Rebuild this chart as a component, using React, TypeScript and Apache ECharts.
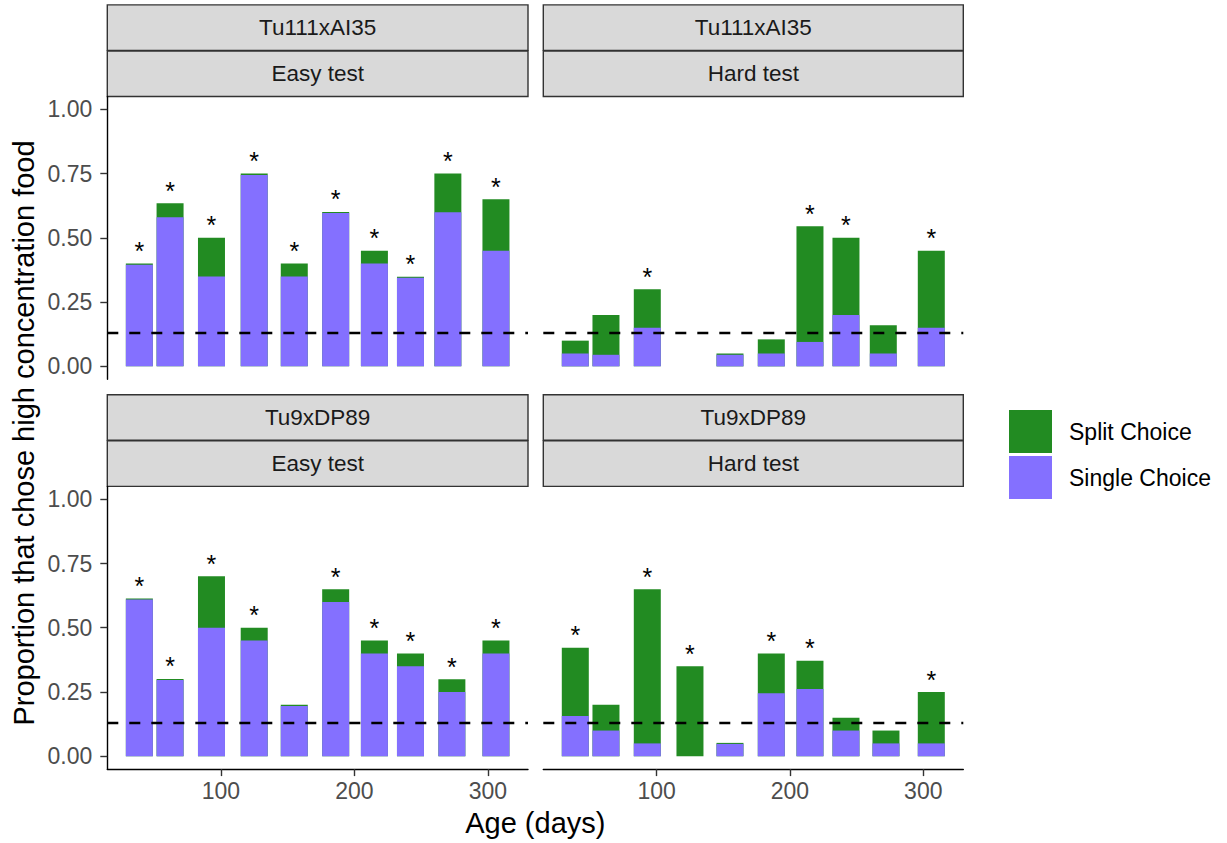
import React, { useEffect, useRef } from "react";
import * as echarts from "echarts";

// ---------- data ----------
const legendNames = ["Split Choice", "Single Choice"];
const xTicks = [100, 200, 300];
const yTicks = [0, 0.25, 0.5, 0.75, 1];
const chanceLevel = 0.125;

const crossLabels = ["Tu111xAI35", "Tu111xAI35", "Tu9xDP89", "Tu9xDP89"];
const testLabels = ["Easy test", "Hard test", "Easy test", "Hard test"];

// Tu111xAI35 - Easy test
const agesTL = [39, 62, 93, 125, 155, 186, 215, 242, 270, 306];
const singleTL = [0.395, 0.58, 0.35, 0.745, 0.35, 0.597, 0.4, 0.345, 0.6, 0.45];
const splitTL = [0.005, 0.055, 0.15, 0.005, 0.05, 0.004, 0.05, 0.004, 0.15, 0.2];
const sigTL = [true, true, true, true, true, true, true, true, true, true];

// Tu111xAI35 - Hard test
const agesTR = [39, 62, 93, 155, 186, 215, 242, 270, 306];
const singleTR = [0.05, 0.045, 0.15, 0.045, 0.05, 0.095, 0.2, 0.05, 0.15];
const splitTR = [0.05, 0.155, 0.15, 0.005, 0.055, 0.45, 0.3, 0.11, 0.3];
const sigTR = [false, false, true, false, false, true, true, false, true];

// Tu9xDP89 - Easy test
const agesBL = [39, 62, 93, 125, 155, 186, 215, 242, 273, 306];
const singleBL = [0.61, 0.297, 0.5, 0.45, 0.196, 0.6, 0.4, 0.35, 0.25, 0.4];
const splitBL = [0.004, 0.004, 0.2, 0.05, 0.004, 0.05, 0.05, 0.05, 0.05, 0.05];
const sigBL = [true, true, true, true, false, true, true, true, true, true];

// Tu9xDP89 - Hard test
const agesBR = [39, 62, 93, 125, 155, 186, 215, 242, 272, 306];
const singleBR = [0.157, 0.1, 0.05, 0, 0.048, 0.245, 0.262, 0.1, 0.05, 0.05];
const splitBR = [0.265, 0.1, 0.6, 0.35, 0.004, 0.155, 0.11, 0.05, 0.05, 0.2];
const sigBR = [true, false, true, true, false, true, true, false, false, true];

// ---------- styling / layout ----------
const GREEN = "#228B22";
const PURPLE = "#8470FF";
const FONT = "'Liberation Sans', Arial, Helvetica, sans-serif";

const panels = [
  { ages: agesTL, single: singleTL, split: splitTL, sig: sigTL, left: 107.3, top: 96.5, width: 420.7, height: 282.7, showX: false, showY: true },
  { ages: agesTR, single: singleTR, split: splitTR, sig: sigTR, left: 543.3, top: 96.5, width: 420, height: 282.7, showX: false, showY: false },
  { ages: agesBL, single: singleBL, split: splitBL, sig: sigBL, left: 107.3, top: 486.4, width: 420.7, height: 282.7, showX: true, showY: true },
  { ages: agesBR, single: singleBR, split: splitBR, sig: sigBR, left: 543.3, top: 486.4, width: 420, height: 282.7, showX: true, showY: false },
];

export default function App() {
  const ref = useRef<HTMLDivElement>(null);

  useEffect(() => {
    if (!ref.current) return;
    const chart = echarts.init(ref.current, undefined, { renderer: "svg" });

    const grid = panels.map((p) => ({ left: p.left, top: p.top, width: p.width, height: p.height, containLabel: false }));

    const xAxis = panels.map((p, i) => ({
      gridIndex: i,
      type: "value",
      min: 15,
      max: 330,
      axisLine: { show: p.showX, onZero: false, lineStyle: { color: "#000", width: 1.4 } },
      axisTick: { show: p.showX, customValues: xTicks, length: 7, lineStyle: { color: "#333", width: 1.4 } },
      axisLabel: { show: p.showX, customValues: xTicks, fontSize: 23, color: "#4D4D4D", margin: 10, fontFamily: FONT },
      splitLine: { show: false },
    }));

    const yAxis = panels.map((p, i) => ({
      gridIndex: i,
      type: "value",
      min: -0.05,
      max: 1.05,
      axisLine: { show: p.showY, onZero: false, lineStyle: { color: "#000", width: 1.4 } },
      axisTick: { show: p.showY, customValues: yTicks, length: 7, lineStyle: { color: "#333", width: 1.4 } },
      axisLabel: {
        show: p.showY,
        customValues: yTicks,
        formatter: (v: number) => v.toFixed(2),
        fontSize: 23,
        color: "#4D4D4D",
        margin: 15,
        fontFamily: FONT,
      },
      splitLine: { show: false },
    }));

    const series: any[] = [];
    panels.forEach((p, i) => {
      // Split Choice stacked on top of Single Choice: the green bar spans 0..total,
      // and the purple Single Choice bar is drawn over its lower part.
      series.push({
        type: "bar",
        name: "Split Choice",
        xAxisIndex: i,
        yAxisIndex: i,
        barWidth: 27,
        barGap: "-100%",
        itemStyle: { color: GREEN },
        label: {
          show: false,
          position: "top",
          distance: 0,
          formatter: "*",
          fontSize: 25,
          color: "#000",
          fontFamily: FONT,
        },
        data: p.ages.map((a, k) => ({ value: [a, p.single[k] + p.split[k]], label: { show: p.sig[k] } })),
        markLine: {
          silent: true,
          symbol: "none",
          z: 10,
          label: { show: false },
          lineStyle: { type: [11, 11], color: "#000", width: 2.4 },
          data: [{ yAxis: chanceLevel }],
        },
      });
      series.push({
        type: "bar",
        name: "Single Choice",
        xAxisIndex: i,
        yAxisIndex: i,
        barWidth: 27,
        barGap: "-100%",
        itemStyle: { color: PURPLE },
        data: p.ages.map((a, k) => [a, p.single[k]]),
      });
    });

    const graphic: any[] = [];
    panels.forEach((p, i) => {
      const stripH = 45.5;
      const y0 = p.top - 2 * stripH - 0.6;
      const boxes = [
        { y: y0, label: crossLabels[i] },
        { y: y0 + stripH + 0.6, label: testLabels[i] },
      ];
      boxes.forEach((b) => {
        graphic.push({
          type: "rect",
          shape: { x: p.left, y: b.y, width: p.width, height: stripH },
          style: { fill: "#D9D9D9", stroke: "#333333", lineWidth: 1.4 },
        });
        graphic.push({
          type: "text",
          x: p.left + p.width / 2,
          y: b.y + stripH / 2,
          style: {
            text: b.label,
            fill: "#1A1A1A",
            fontSize: 22.5,
            fontFamily: FONT,
            align: "center",
            verticalAlign: "middle",
          },
        });
      });
    });
    graphic.push({
      type: "text",
      x: 535.3,
      y: 823,
      style: { text: "Age (days)", fill: "#000", fontSize: 29, fontFamily: FONT, align: "center", verticalAlign: "middle" },
    });
    graphic.push({
      type: "text",
      x: 23.5,
      y: 433,
      rotation: Math.PI / 2,
      style: {
        text: "Proportion that chose high concentration food",
        fill: "#000",
        fontSize: 29,
        fontFamily: FONT,
        align: "center",
        verticalAlign: "middle",
      },
    });

    chart.setOption({
      animation: false,
      textStyle: { fontFamily: FONT },
      grid,
      xAxis,
      yAxis,
      series,
      graphic,
      legend: {
        data: legendNames,
        orient: "vertical",
        left: 1009,
        top: 410,
        padding: 0,
        itemWidth: 43,
        itemHeight: 43,
        itemGap: 3,
        icon: "rect",
        selectedMode: false,
        textStyle: { fontSize: 23, color: "#000", fontFamily: FONT, padding: [0, 0, 0, 12] },
      },
    });

    return () => chart.dispose();
  }, []);

  return <div ref={ref} style={{ position: "fixed", left: 0, top: 0, width: 1227, height: 843, background: "#fff" }} />;
}
